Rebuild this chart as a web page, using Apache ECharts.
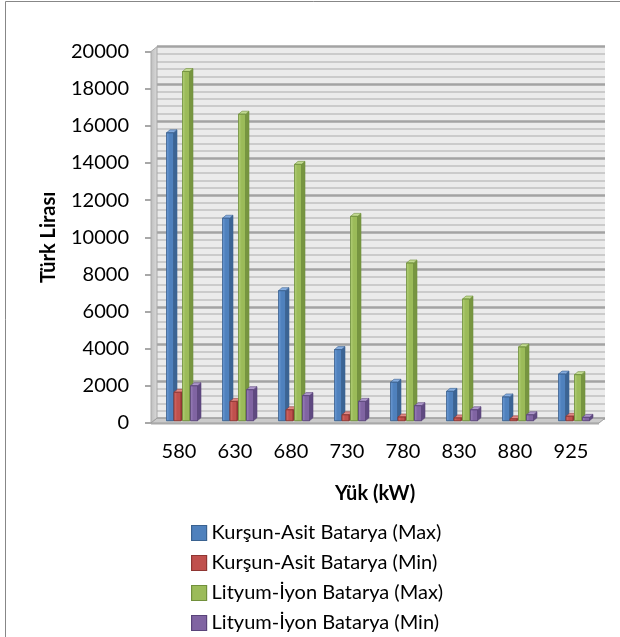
<!DOCTYPE html>
<html>
<head>
<meta charset="utf-8">
<title>Yük - Maliyet</title>
<script src="https://cdn.jsdelivr.net/npm/echarts@6/dist/echarts.min.js"></script>
<style>
  html, body { margin: 0; padding: 0; background: #ffffff; }
  #chart { width: 620px; height: 637px; }
</style>
</head>
<body>
<div id="chart"></div>
<script>
// Load levels (kW) and cost ranges (TL) per battery type
const categories = ['580', '630', '680', '730', '780', '830', '880', '925'];
const kursunMax = [15500, 10900, 7000, 3830, 2070, 1580, 1280, 2510];
const kursunMin = [1530, 1040, 590, 320, 200, 150, 100, 240];
const lityumMax = [18800, 16500, 13800, 11000, 8490, 6550, 3970, 2480];
const lityumMin = [1880, 1670, 1350, 1040, 810, 590, 320, 180];
const seriesNames = [
  'Kurşun-Asit Batarya (Max)',
  'Kurşun-Asit Batarya (Min)',
  'Lityum-İyon Batarya (Max)',
  'Lityum-İyon Batarya (Min)'
];
const yMin = 0, yMax = 20000, yStep = 2000;

// Shading for each series: front face, lighter front edge, side face, top face
const palette = [
  { base: '#4f81bd', light: '#6e9cd6', side: '#3b6494', top: '#86addf', edge: '#3a6290' },
  { base: '#c0504d', light: '#d6716d', side: '#963a38', top: '#e08a86', edge: '#8f3633' },
  { base: '#9bbb59', light: '#b4d079', side: '#779540', top: '#c3db92', edge: '#71903c' },
  { base: '#8064a2', light: '#9b81bc', side: '#5f4981', top: '#ae98cb', edge: '#5a447a' }
];
// Horizontal placement of each cluster member (in px for a 56px band)
const clusterOffsets = [-18.5, -11, -2.5, 5.5];
const FONT = 'Lato, "Open Sans", sans-serif';

const chart = echarts.init(document.getElementById('chart'), null, { renderer: 'canvas' });

function makeRenderer(s) {
  const c = palette[s];
  return function (params, api) {
    const cat = api.value(0);
    const val = api.value(1);
    const topPt = api.coord([cat, val]);
    const basePt = api.coord([cat, 0]);
    const band = api.size([1, 0])[0];
    const u = band / 56;
    const w = 7 * u, d = 3.5 * u, dh = 3;
    const shift = 2.5; // columns stand mid-depth on the floor
    const x = basePt[0] + clusterOffsets[s] * u;
    const y0 = basePt[1] + shift;
    const y1 = Math.min(topPt[1] + shift, y0 - 0.5);
    return {
      type: 'group',
      children: [
        {
          type: 'polygon',
          shape: { points: [[x + w, y1], [x + w + d, y1 - dh], [x + w + d, y0 - dh], [x + w, y0]] },
          style: { fill: c.side, stroke: c.edge, lineWidth: 0.6 }
        },
        {
          type: 'polygon',
          shape: { points: [[x, y1], [x + d, y1 - dh], [x + w + d, y1 - dh], [x + w, y1]] },
          style: { fill: c.top, stroke: c.edge, lineWidth: 0.6 }
        },
        {
          type: 'rect',
          shape: { x: x, y: y1, width: w, height: y0 - y1 },
          style: {
            fill: new echarts.graphic.LinearGradient(0, 0, 1, 0, [
              { offset: 0, color: c.light },
              { offset: 0.45, color: c.base },
              { offset: 1, color: c.base }
            ]),
            stroke: c.edge,
            lineWidth: 0.6
          }
        }
      ]
    };
  };
}

const seriesData = [kursunMax, kursunMin, lityumMax, lityumMin];

const option = {
  animation: false,
  backgroundColor: '#ffffff',
  textStyle: { fontFamily: FONT },
  grid: [
    // back wall
    { left: 157, right: 15, top: 46.7, height: 371.5, show: true, backgroundColor: '#ebebeb', borderWidth: 0 },
    // front plane carrying the tick labels
    { left: 151, right: 21, top: 51.5, height: 371.5, show: false }
  ],
  xAxis: [
    {
      gridIndex: 0, type: 'category', data: categories,
      axisLine: { show: false }, axisTick: { show: false }, axisLabel: { show: false }
    },
    {
      gridIndex: 1, type: 'category', data: categories,
      axisLine: { show: false }, axisTick: { show: false },
      axisLabel: { color: '#000', fontSize: 20, lineHeight: 20, margin: 19, fontFamily: FONT },
      name: 'Yük (kW)', nameLocation: 'middle', nameGap: 59,
      nameTextStyle: { color: '#000', fontSize: 20, lineHeight: 24, fontWeight: 'bold', fontFamily: FONT }
    }
  ],
  yAxis: [
    {
      gridIndex: 0, type: 'value', min: yMin, max: yMax, interval: yStep,
      axisLine: { show: false }, axisTick: { show: false }, axisLabel: { show: false },
      splitLine: { show: true, lineStyle: { color: '#a3a3a3', width: 2.5 } },
      minorTick: { show: false, splitNumber: 5 },
      minorSplitLine: { show: true, lineStyle: { color: '#cbcbcb', width: 2.2 } }
    },
    {
      gridIndex: 1, type: 'value', min: yMin, max: yMax, interval: yStep,
      axisLine: { show: false },
      axisTick: { show: true, length: 6, lineStyle: { color: '#8c8c8c', width: 1.5 } },
      axisLabel: { color: '#000', fontSize: 20, margin: 22, fontFamily: FONT, formatter: (v) => String(v) },
      splitLine: { show: false },
      name: 'Türk Lirası', nameLocation: 'middle', nameRotate: 90, nameGap: 87,
      nameTextStyle: { color: '#000', fontSize: 20, lineHeight: 24, fontWeight: 'bold', fontFamily: FONT }
    }
  ],
  legend: {
    orient: 'vertical', left: 191, top: 522, padding: 0,
    itemWidth: 15, itemHeight: 15, itemGap: 8,
    icon: 'rect',
    textStyle: { color: '#000', fontSize: 20, lineHeight: 22, fontFamily: FONT },
    data: seriesNames.map((n, i) => ({
      name: n,
      itemStyle: { color: palette[i].base, borderColor: palette[i].edge, borderWidth: 1.2 }
    }))
  },
  series: seriesData.map((arr, s) => ({
    name: seriesNames[s],
    type: 'custom',
    xAxisIndex: 0, yAxisIndex: 0,
    clip: false,
    z: 5,
    itemStyle: { color: palette[s].base },
    renderItem: makeRenderer(s),
    encode: { x: 0, y: 1 },
    data: arr.map((v, i) => [i, v])
  }))
};

chart.setOption(option);

// Side wall, floor and outer frame, derived from the two planes' axes
const wallTL = chart.convertToPixel({ gridIndex: 0 }, [0, yMax]);
const wallBL = chart.convertToPixel({ gridIndex: 0 }, [0, yMin]);
const frontTL = chart.convertToPixel({ gridIndex: 1 }, [0, yMax]);
const frontBL = chart.convertToPixel({ gridIndex: 1 }, [0, yMin]);
const wallRect = chart.getModel().getComponent('grid', 0).coordinateSystem.getRect();
const frontRect = chart.getModel().getComponent('grid', 1).coordinateSystem.getRect();
const wl = wallRect.x, wr = wallRect.x + wallRect.width;
const fl = frontRect.x, fr = frontRect.x + frontRect.width;

chart.setOption({
  graphic: [
    {
      type: 'polygon', z: 1, silent: true,
      shape: { points: [[fl, frontTL[1]], [wl, wallTL[1]], [wl, wallBL[1]], [fl, frontBL[1]]] },
      style: { fill: new echarts.graphic.LinearGradient(0, 0, 1, 0, [
        { offset: 0, color: '#bdbdbd' }, { offset: 1, color: '#dadada' }
      ]), stroke: '#a8a8a8', lineWidth: 1 }
    },
    {
      type: 'polygon', z: 1, silent: true,
      shape: { points: [[fl, frontBL[1]], [wl, wallBL[1]], [wr, wallBL[1]], [fr, frontBL[1]]] },
      style: { fill: '#cbcbcb', stroke: '#9d9d9d', lineWidth: 1 }
    },
    {
      type: 'rect', z: 1, silent: true,
      shape: { x: fl, y: frontBL[1], width: fr - fl, height: 1.5 },
      style: { fill: '#a9a9a9' }
    },
    {
      type: 'rect', z: 10, silent: true,
      shape: { x: 5.5, y: 1.5, width: 800, height: 800 },
      style: { fill: 'none', stroke: '#878787', lineWidth: 1 }
    }
  ]
});
</script>
</body>
</html>
